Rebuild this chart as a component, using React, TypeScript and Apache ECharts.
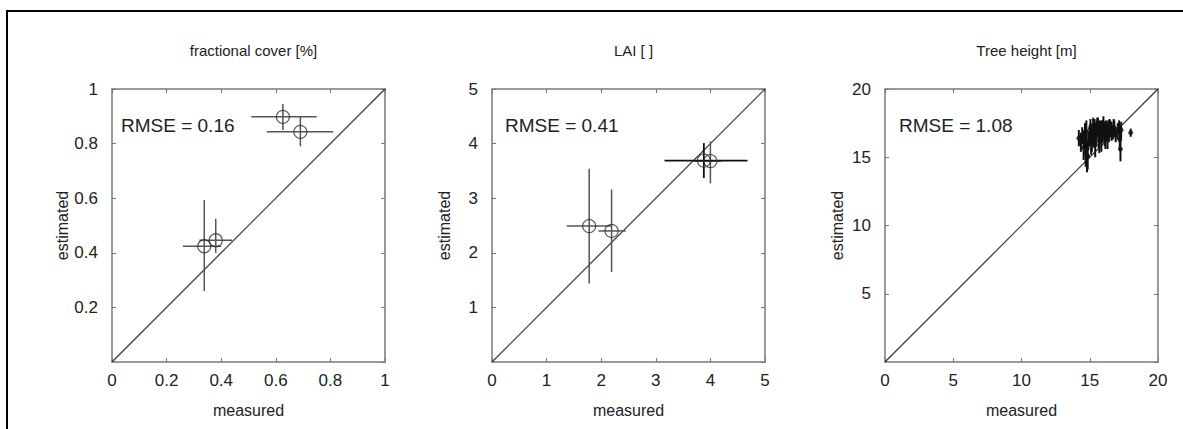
import React, { useEffect, useRef } from "react";
import * as echarts from "echarts";

// ---- Data ----
const panelTitles = ["fractional cover [%]", "LAI [ ]", "Tree height [m]"];
const rmseLabels = ["RMSE = 0.16", "RMSE = 0.41", "RMSE = 1.08"];
const axisMax = [1, 5, 20];
const axisInterval = [0.2, 1, 5];

// fractional cover: [x, y, xLow, xHigh, yLow, yHigh]
const coverPoints = [
  [0.626, 0.898, 0.51, 0.75, 0.85, 0.945],
  [0.69, 0.843, 0.567, 0.81, 0.79, 0.9],
  [0.338, 0.424, 0.26, 0.4, 0.26, 0.593],
  [0.38, 0.446, 0.32, 0.44, 0.4, 0.524],
];

// LAI (grey error bars)
const laiPointsGrey = [
  [1.78, 2.49, 1.37, 2.2, 1.44, 3.54],
  [2.19, 2.4, 1.95, 2.45, 1.65, 3.16],
  [4.0, 3.68, 3.7, 4.2, 3.27, 4.04],
];
// LAI (black error bars)
const laiPointsBlack = [[3.88, 3.69, 3.16, 4.68, 3.37, 4.01]];

// Tree height
const treeX = [14.2, 14.35, 14.45, 14.55, 14.6, 14.7, 14.75, 14.85, 14.9, 15.0, 15.05, 15.15, 15.2, 15.3, 15.35, 15.45, 15.5, 15.6, 15.65, 15.75, 15.8, 15.9, 15.95, 16.05, 16.1, 16.2, 16.25, 16.35, 16.4, 16.5, 16.6, 16.7, 16.8, 16.9, 17.05, 17.15, 17.2, 17.3, 14.8, 15.1, 15.4, 15.55, 15.85, 16.15, 16.45, 17.25, 18.0, 14.65, 15.25, 15.7, 16.0, 16.3, 16.75];
const treeY = [16.4, 16.1, 16.6, 15.7, 16.3, 15.3, 16.9, 15.1, 16.2, 16.6, 17.1, 16.3, 16.9, 16.5, 17.2, 16.7, 17.0, 17.3, 16.6, 17.1, 16.8, 17.2, 16.9, 17.0, 16.6, 17.2, 16.9, 17.0, 16.7, 17.1, 16.9, 16.8, 17.1, 16.6, 16.9, 17.2, 16.3, 17.0, 15.0, 16.0, 15.9, 17.4, 16.2, 16.4, 17.3, 15.6, 16.8, 16.8, 17.3, 16.2, 17.5, 16.4, 17.2];
const treeErr = [0.6, 0.7, 0.6, 0.9, 0.7, 1.0, 0.8, 1.0, 0.7, 0.8, 0.7, 0.9, 0.6, 0.8, 0.6, 0.8, 0.7, 0.6, 0.9, 0.6, 0.8, 0.5, 0.8, 0.6, 0.8, 0.5, 0.6, 0.7, 0.6, 0.6, 0.7, 0.5, 0.6, 0.5, 0.6, 0.5, 0.8, 0.6, 1.1, 0.8, 0.9, 0.5, 0.8, 0.8, 0.5, 0.9, 0.3, 0.7, 0.6, 0.9, 0.5, 0.8, 0.6];

// ---- Layout ----
const gridLefts = [112, 492, 885];
const gridTop = 89;
const gridSize = 273;
const FONT = "Liberation Sans, Arial, sans-serif";

function errorSeries(data: number[][], xi: number, color: string, width: number) {
  return {
    type: "custom",
    xAxisIndex: xi,
    yAxisIndex: xi,
    data,
    encode: { x: [0, 2, 3], y: [1, 4, 5] },
    z: 3,
    renderItem: (params: any, api: any) => {
      const x = api.value(0), y = api.value(1);
      const xl = api.value(2), xh = api.value(3), yl = api.value(4), yh = api.value(5);
      const a = api.coord([xl, y]), b = api.coord([xh, y]);
      const c = api.coord([x, yl]), d = api.coord([x, yh]);
      const style = { stroke: color, lineWidth: width };
      return {
        type: "group",
        children: [
          { type: "line", shape: { x1: a[0], y1: a[1], x2: b[0], y2: b[1] }, style },
          { type: "line", shape: { x1: c[0], y1: c[1], x2: d[0], y2: d[1] }, style },
        ],
      };
    },
  };
}

export default function App() {
  const ref = useRef<HTMLDivElement>(null);
  useEffect(() => {
    const chart = echarts.init(ref.current!, null, { renderer: "svg" });
    const grids = gridLefts.map((l) => ({ left: l, top: gridTop, width: gridSize, height: gridSize }));
    const axisLine = { show: true, onZero: false, lineStyle: { color: "#9a9a9a", width: 2 } };
    const tick = { show: true, inside: true, length: 4, lineStyle: { color: "#777" } };
    const xAxes: any[] = [];
    const yAxes: any[] = [];
    for (let i = 0; i < 3; i++) {
      xAxes.push({
        type: "value", gridIndex: i, min: 0, max: axisMax[i], interval: axisInterval[i], position: "bottom",
        axisLine, axisTick: tick, splitLine: { show: false },
        axisLabel: { fontSize: 17, color: "#222", fontFamily: FONT, margin: 10 },
        name: "measured", nameLocation: "middle", nameGap: 40,
        nameTextStyle: { fontSize: 16, color: "#222", fontFamily: FONT },
      });
      yAxes.push({
        type: "value", gridIndex: i, min: 0, max: axisMax[i], interval: axisInterval[i], position: "left",
        axisLine, axisTick: tick, splitLine: { show: false },
        axisLabel: { fontSize: 17, color: "#222", fontFamily: FONT, margin: 14, showMinLabel: false },
        name: "estimated", nameLocation: "middle", nameGap: 40,
        nameTextStyle: { fontSize: 16, color: "#222", fontFamily: FONT },
      });
    }
    for (let i = 0; i < 3; i++) {
      xAxes.push({
        type: "value", gridIndex: i, min: 0, max: axisMax[i], interval: axisInterval[i], position: "top",
        axisLine, axisTick: tick, splitLine: { show: false }, axisLabel: { show: false },
      });
      yAxes.push({
        type: "value", gridIndex: i, min: 0, max: axisMax[i], interval: axisInterval[i], position: "right",
        axisLine, axisTick: tick, splitLine: { show: false }, axisLabel: { show: false },
      });
    }

    const series: any[] = [];
    for (let i = 0; i < 3; i++) {
      series.push({
        type: "line", xAxisIndex: i, yAxisIndex: i, data: [[0, 0], [axisMax[i], axisMax[i]]],
        symbol: "none", lineStyle: { color: "#333", width: 1.2 }, z: 2, silent: true,
      });
    }
    series.push(errorSeries(coverPoints, 0, "#555", 1.5));
    series.push({
      type: "scatter", xAxisIndex: 0, yAxisIndex: 0, data: coverPoints.map((p) => [p[0], p[1]]),
      symbol: "circle", symbolSize: 13, itemStyle: { color: "transparent", borderColor: "#333", borderWidth: 1.2 }, z: 4,
    });
    series.push(errorSeries(laiPointsGrey, 1, "#555", 1.5));
    series.push(errorSeries(laiPointsBlack, 1, "#111", 1.8));
    series.push({
      type: "scatter", xAxisIndex: 1, yAxisIndex: 1,
      data: [...laiPointsGrey, ...laiPointsBlack].map((p) => [p[0], p[1]]),
      symbol: "circle", symbolSize: 13, itemStyle: { color: "transparent", borderColor: "#333", borderWidth: 1.2 }, z: 4,
    });
    const treeData = treeX.map((x, k) => [x, treeY[k], x, x, treeY[k] - treeErr[k], treeY[k] + treeErr[k]]);
    series.push(errorSeries(treeData, 2, "#111", 2));
    series.push({
      type: "scatter", xAxisIndex: 2, yAxisIndex: 2, data: treeX.map((x, k) => [x, treeY[k]]),
      symbol: "circle", symbolSize: 5, itemStyle: { color: "#111" }, z: 4,
    });

    const titles = panelTitles.map((t, i) => ({
      text: t, left: gridLefts[i] + gridSize / 2, top: 38, textAlign: "center",
      textStyle: { fontSize: 15, fontWeight: "normal", color: "#222", fontFamily: FONT },
    }));

    const graphics: any[] = [
      { type: "polyline", shape: { points: [[7, 429], [7, 11], [1183, 11]] }, style: { stroke: "#000", lineWidth: 2, fill: null } },
    ];
    rmseLabels.forEach((t, i) => {
      graphics.push({
        type: "text", left: gridLefts[i] + (i === 0 ? 9 : i === 1 ? 13 : 14), top: 116,
        style: { text: t, fontSize: 19, fill: "#222", fontFamily: FONT },
      });
    });

    chart.setOption({
      animation: false,
      backgroundColor: "#fff",
      title: titles,
      grid: grids,
      xAxis: xAxes,
      yAxis: yAxes,
      series,
      graphic: graphics,
    });
    return () => chart.dispose();
  }, []);
  return <div ref={ref} style={{ position: "fixed", left: 0, top: 0, width: 1183, height: 429 }} />;
}
